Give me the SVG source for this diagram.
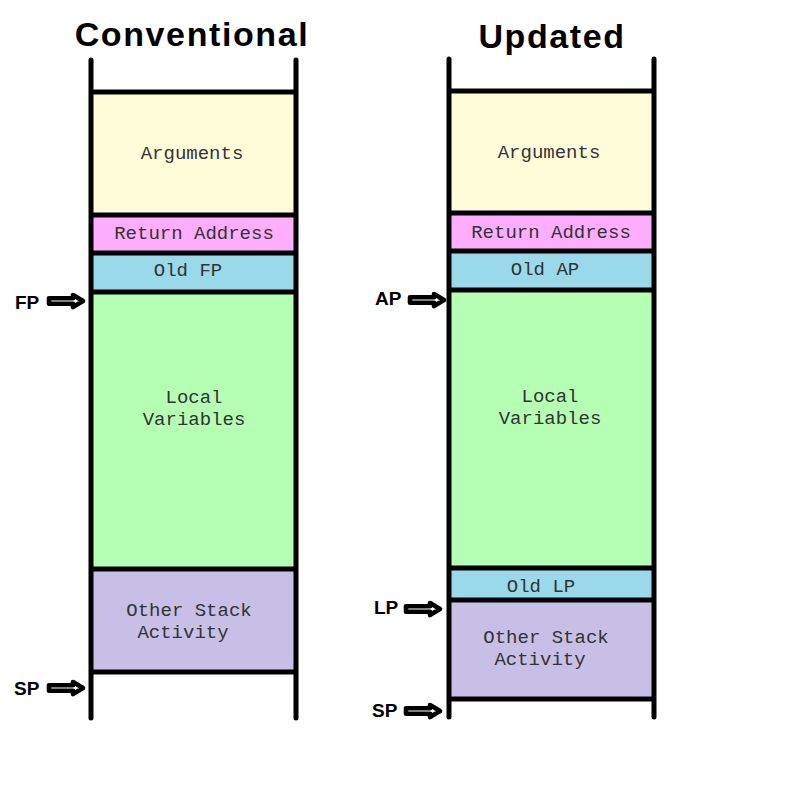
<svg xmlns="http://www.w3.org/2000/svg" width="800" height="800" viewBox="0 0 800 800">
<style>
.title{font-family:"Liberation Sans",Arial,sans-serif;font-weight:bold;font-size:34px;letter-spacing:1.6px;fill:#000;text-anchor:middle}
.ptr{font-family:"Liberation Sans",Arial,sans-serif;font-weight:bold;font-size:19px;fill:#000}
.lbl{font-family:"Liberation Mono","Courier New",monospace;font-size:19px;fill:#333;text-anchor:middle}
.wall{stroke:#000;stroke-width:5;stroke-linecap:round;fill:none}
.sep{stroke:#000;stroke-width:5;fill:none}
.arg{fill:#FFFCDA}
.ret{fill:#FFAEFF}
.old{fill:#99D9EA}
.loc{fill:#B5FFB5}
.oth{fill:#C8BFE7}
.arr{fill:#fff;stroke:#000;stroke-width:4.6;stroke-linejoin:round}
</style>
<defs>
<path id="arrow" class="arr" d="M0,-2.8 H24 V-6 L34,0 L24,6 V2.8 H0 Z"/>
</defs>
<rect width="800" height="800" fill="#fff"/>

<text class="title" x="192" y="46">Conventional</text>
<text class="title" x="552" y="48">Updated</text>

<!-- Conventional column -->
<g id="c-arguments"><rect class="arg" x="91" y="92" width="205" height="123"/><text class="lbl" x="192" y="159">Arguments</text></g>
<g id="c-return"><rect class="ret" x="91" y="215" width="205" height="38"/><text class="lbl" x="194" y="239">Return Address</text></g>
<g id="c-oldfp"><rect class="old" x="91" y="253" width="205" height="39"/><text class="lbl" x="188" y="276">Old FP</text></g>
<g id="c-local"><rect class="loc" x="91" y="292" width="205" height="277"/><text class="lbl" x="194" y="403">Local</text><text class="lbl" x="194" y="425">Variables</text></g>
<g id="c-other"><rect class="oth" x="91" y="569" width="205" height="103"/><text class="lbl" x="189" y="616">Other Stack</text><text class="lbl" x="183" y="638">Activity</text></g>
<g id="c-frame">
<path class="sep" d="M91,92H296M91,215H296M91,253H296M91,292H296M91,569H296M91,672H296"/>
<path class="wall" d="M91,60V718M296,60V718"/>
</g>

<!-- Updated column -->
<g id="u-arguments"><rect class="arg" x="449" y="91" width="205" height="122"/><text class="lbl" x="549" y="158">Arguments</text></g>
<g id="u-return"><rect class="ret" x="449" y="213" width="205" height="38"/><text class="lbl" x="551" y="238">Return Address</text></g>
<g id="u-oldap"><rect class="old" x="449" y="251" width="205" height="39"/><text class="lbl" x="545" y="275">Old AP</text></g>
<g id="u-local"><rect class="loc" x="449" y="290" width="205" height="277"/><text class="lbl" x="550" y="402">Local</text><text class="lbl" x="550" y="424">Variables</text></g>
<g id="u-oldlp"><rect class="old" x="449" y="568" width="205" height="31"/><text class="lbl" x="541" y="592">Old LP</text></g>
<g id="u-other"><rect class="oth" x="449" y="600" width="205" height="99"/><text class="lbl" x="546" y="643">Other Stack</text><text class="lbl" x="540" y="665">Activity</text></g>
<g id="u-frame">
<path class="sep" d="M449,91H654M449,213H654M449,251H654M449,290H654M449,568H654M449,600H654M449,699H654"/>
<path class="wall" d="M449,59V717M654,59V717"/>
</g>

<!-- pointers -->
<g id="connectors">
<g id="fp"><text class="ptr" x="15" y="309">FP</text><use href="#arrow" x="49" y="301"/></g>
<g id="sp-c"><text class="ptr" x="14" y="695">SP</text><use href="#arrow" x="49" y="688"/></g>
<g id="ap"><text class="ptr" x="375" y="305">AP</text><use href="#arrow" x="410" y="300"/></g>
<g id="lp"><text class="ptr" x="374" y="614">LP</text><use href="#arrow" x="406" y="609"/></g>
<g id="sp-u"><text class="ptr" x="372" y="717">SP</text><use href="#arrow" x="406" y="711"/></g>
</g>
</svg>
